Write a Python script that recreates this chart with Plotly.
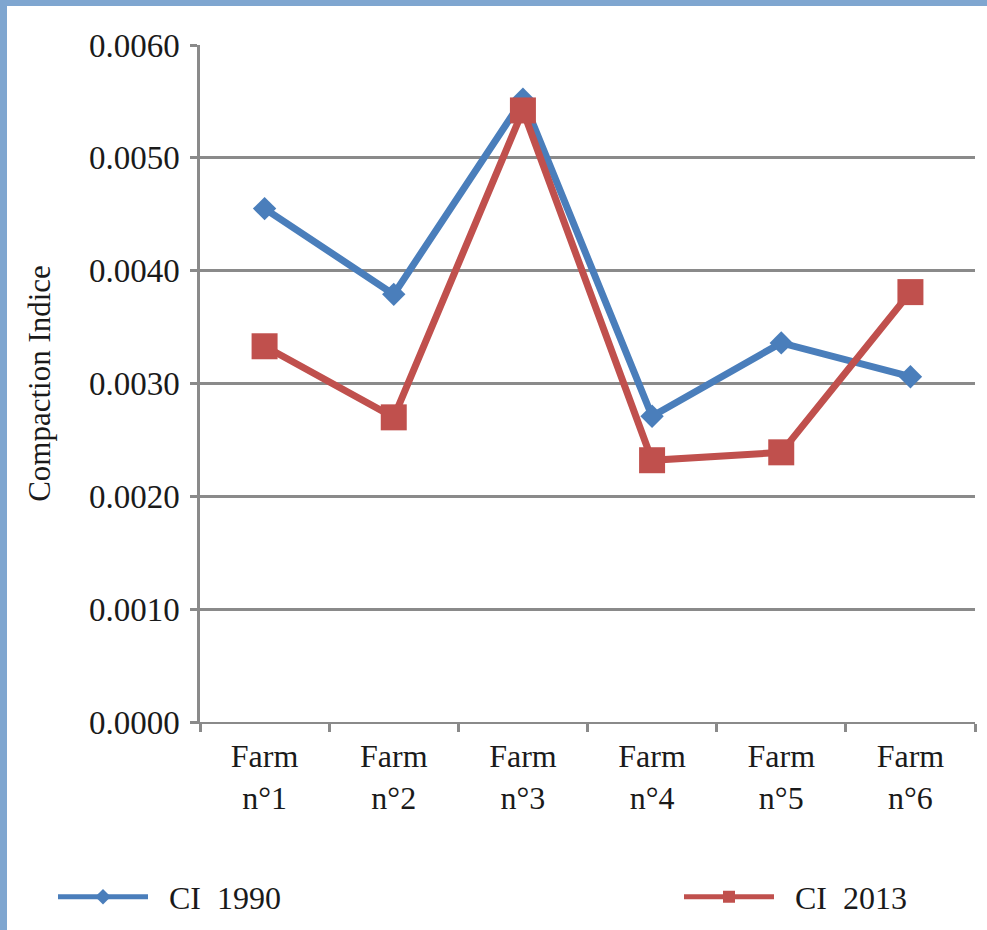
import plotly.graph_objects as go

categories = ["Farm<br>n°1", "Farm<br>n°2", "Farm<br>n°3", "Farm<br>n°4", "Farm<br>n°5", "Farm<br>n°6"]
ci_1990 = [0.00455, 0.00379, 0.00552, 0.00271, 0.00336, 0.00306]
ci_2013 = [0.00333, 0.00270, 0.00542, 0.00232, 0.00239, 0.00381]
y_ticks = [0.0, 0.001, 0.002, 0.003, 0.004, 0.005, 0.006]
series_names = ["\u00a0\u00a0CI\u00a0\u00a01990", "\u00a0\u00a0CI\u00a0\u00a02013"]

BLUE = "#4A7EBB"
RED = "#C0504D"
GRID = "#8A8A8A"
FONT = "Liberation Serif, Times New Roman, DejaVu Serif, serif"

fig = go.Figure()
fig.add_trace(go.Scatter(
    x=categories, y=ci_1990, name=series_names[0], mode="lines+markers",
    line=dict(color=BLUE, width=7),
    marker=dict(symbol="diamond", size=18, color=BLUE),
    legend="legend",
))
fig.add_trace(go.Scatter(
    x=categories, y=ci_2013, name=series_names[1], mode="lines+markers",
    line=dict(color=RED, width=7),
    marker=dict(symbol="square", size=26, color=RED),
    legend="legend2",
))

L, R, T, B = 200, 12, 45, 208
W, H = 987, 930
pw = W - L - R
ph = H - T - B

def px(xpix):
    return (xpix - L) / pw

def py(ypix):
    return (H - B - ypix) / ph

frame = "#7FA6D0"
shapes = [
    dict(type="rect", xref="paper", yref="paper", x0=px(0), x1=px(7), y0=py(H), y1=py(0),
         fillcolor=frame, line=dict(width=0), layer="above"),
    dict(type="rect", xref="paper", yref="paper", x0=px(0), x1=px(W), y0=py(6), y1=py(0),
         fillcolor=frame, line=dict(width=0), layer="above"),
]

legend_common = dict(
    orientation="h", xanchor="left", yanchor="middle",
    font=dict(family=FONT, size=32, color="#1a1a1a"),
    itemwidth=90, itemsizing="constant",
    bgcolor="rgba(0,0,0,0)", itemclick=False, itemdoubleclick=False,
)

fig.update_layout(
    width=W, height=H,
    margin=dict(l=L, r=R, t=T, b=B, pad=0, autoexpand=False),
    paper_bgcolor="white", plot_bgcolor="white",
    font=dict(family=FONT, color="#1a1a1a", size=30),
    showlegend=True,
    legend=dict(x=px(53), y=py(897), **legend_common),
    legend2=dict(x=px(679), y=py(897), **legend_common),
    shapes=shapes,
)

fig.update_xaxes(
    type="category", range=[-0.5, 5.5],
    showgrid=False, showline=True, linecolor=GRID, linewidth=2,
    ticks="outside", tickson="boundaries", ticklen=8, tickwidth=3, tickcolor=GRID,
    tickfont=dict(family=FONT, size=32, color="#1a1a1a"),
    ticklabelstandoff=5,
)
fig.update_yaxes(
    range=[0, 0.006], tickvals=y_ticks, tickformat=".4f",
    showgrid=True, gridcolor=GRID, gridwidth=2.5,
    zeroline=False, showline=True, linecolor=GRID, linewidth=2.5,
    ticks="outside", ticklen=7, tickwidth=2.5, tickcolor=GRID,
    tickfont=dict(family=FONT, size=33, color="#1a1a1a"),
    ticklabelstandoff=4,
    title=dict(text="Compaction Indice", font=dict(family=FONT, size=31, color="#1a1a1a"), standoff=30),
)

fig.write_html(
    "out.html",
    config={"displayModeBar": False},
    post_script="document.body.style.margin='0';document.body.style.overflow='hidden';",
)
